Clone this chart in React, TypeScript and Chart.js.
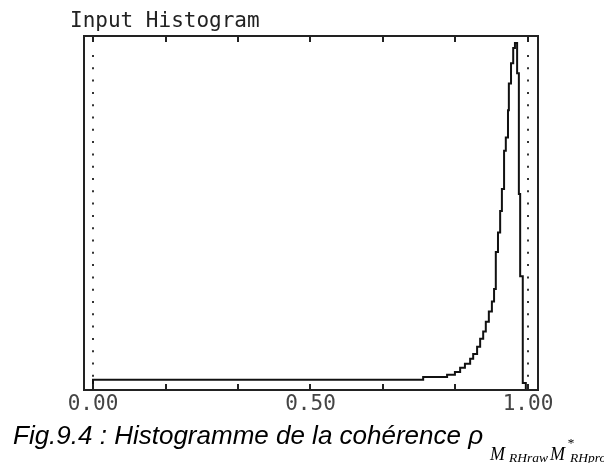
import React, { useEffect, useRef } from "react";
import { Chart, registerables } from "chart.js";

Chart.register(...registerables);

// Histogram bin edges (coherence) and the normalised count held from each edge
const binEdges = [
  0, 0.759, 0.814, 0.832, 0.844, 0.855, 0.867, 0.874, 0.883, 0.89, 0.897,
  0.903, 0.91, 0.917, 0.922, 0.926, 0.931, 0.936, 0.94, 0.945, 0.949, 0.954,
  0.956, 0.961, 0.966, 0.97, 0.975, 0.979, 0.982, 0.988, 0.995, 1.0,
];
const binCounts = [
  2.0, 2.9, 3.7, 4.3, 5.1, 6.3, 7.4, 8.8, 10.2, 12.2, 14.5, 16.5, 19.3, 22.2,
  25.0, 28.5, 39.0, 44.5, 50.6, 56.8, 67.6, 71.3, 79.0, 86.6, 92.3, 96.6, 98.0,
  89.5, 55.4, 32.1, 2.0, 0,
];
const xTickValues = [0, 0.1667, 0.3333, 0.5, 0.6667, 0.8333, 1.0];
const xTickLabels = ["0.00", "", "", "0.50", "", "", "1.00"];
const markerLines = [0, 1];
const chartTitle = "Input Histogram";

const X_MIN = -0.0207;
const X_MAX = 1.023;
const Y_MIN = 0;
const Y_MAX = 100;

const framePlugin = {
  id: "idlFrame",
  afterDatasetsDraw(chart: any) {
    const { ctx, chartArea } = chart;
    const xs = chart.scales.x;
    ctx.save();
    // dotted markers
    ctx.strokeStyle = "#333";
    ctx.lineWidth = 2;
    ctx.setLineDash([2, 10.3]);
    for (const v of markerLines) {
      const px = Math.round(xs.getPixelForValue(v));
      ctx.beginPath();
      ctx.moveTo(px, chartArea.top + 19);
      ctx.lineTo(px, chartArea.bottom - 2);
      ctx.stroke();
    }
    ctx.setLineDash([]);
    // box
    ctx.strokeStyle = "#222";
    ctx.lineWidth = 2;
    ctx.strokeRect(
      chartArea.left,
      chartArea.top,
      chartArea.right - chartArea.left,
      chartArea.bottom - chartArea.top
    );
    // inward ticks top & bottom
    for (const t of xs.ticks) {
      const px = Math.round(xs.getPixelForValue(t.value));
      ctx.beginPath();
      ctx.moveTo(px, chartArea.bottom);
      ctx.lineTo(px, chartArea.bottom - 6);
      ctx.moveTo(px, chartArea.top);
      ctx.lineTo(px, chartArea.top + 6);
      ctx.stroke();
    }
    // title
    ctx.fillStyle = "#222";
    ctx.font = '21px "DejaVu Sans Mono"';
    ctx.textBaseline = "alphabetic";
    ctx.textAlign = "left";
    ctx.fillText(chartTitle, 70, 27);
    ctx.restore();
  },
};

export default function App() {
  const canvasRef = useRef<HTMLCanvasElement | null>(null);

  useEffect(() => {
    const data = [{ x: binEdges[0], y: 0 }].concat(
      binEdges.map((x, i) => ({ x, y: binCounts[i] }))
    );
    const chart = new Chart(canvasRef.current as HTMLCanvasElement, {
      type: "line",
      data: {
        datasets: [
          {
            data,
            borderColor: "#111",
            borderWidth: 2,
            pointRadius: 0,
            stepped: "after",
            fill: false,
            clip: false,
          } as any,
        ],
      },
      options: {
        animation: false,
        responsive: true,
        maintainAspectRatio: false,
        layout: { padding: { left: 84, right: 66, top: 36, bottom: 52 } },
        plugins: {
          legend: { display: false },
          tooltip: { enabled: false },
          title: { display: false },
        },
        scales: {
          x: {
            type: "linear",
            min: X_MIN,
            max: X_MAX,
            grid: { display: false },
            border: { display: false },
            afterBuildTicks: (scale: any) => {
              scale.ticks = xTickValues.map((v) => ({ value: v }));
            },
            ticks: {
              autoSkip: false,
              maxRotation: 0,
              padding: -4,
              color: "#444",
              font: { family: "DejaVu Sans Mono", size: 21, lineHeight: 1 },
              callback: (_v: any, i: number) => xTickLabels[i],
            },
          },
          y: {
            type: "linear",
            min: Y_MIN,
            max: Y_MAX,
            display: false,
          },
        },
      },
      plugins: [framePlugin],
    });
    return () => chart.destroy();
  }, []);

  const serif = '"Liberation Serif", "Times New Roman", serif';
  return (
    <div
      style={{
        position: "fixed",
        left: 0,
        top: 0,
        width: 604,
        height: 463,
        overflow: "hidden",
        background: "#fff",
      }}
    >
      <div style={{ position: "absolute", left: 0, top: 0, width: 604, height: 463 }}>
        <canvas ref={canvasRef} />
      </div>
      <div
        style={{
          position: "absolute",
          left: 13,
          top: 422,
          font: 'italic 26px/26px "Liberation Sans", Arial, sans-serif',
          color: "#000",
          whiteSpace: "nowrap",
        }}
      >
        Fig.9.4 : Histogramme de la cohérence ρ
      </div>
      <span style={{ position: "absolute", left: 490, top: 445, font: `italic 18px/18px ${serif}`, whiteSpace: "nowrap" }}>M</span>
      <span style={{ position: "absolute", left: 509, top: 451, font: `italic 13.5px/13.5px ${serif}`, whiteSpace: "nowrap" }}>RHraw</span>
      <span style={{ position: "absolute", left: 550, top: 445, font: `italic 18px/18px ${serif}`, whiteSpace: "nowrap" }}>M</span>
      <span style={{ position: "absolute", left: 567, top: 436, font: `italic 13.5px/13.5px ${serif}`, whiteSpace: "nowrap" }}>*</span>
      <span style={{ position: "absolute", left: 570, top: 451, font: `italic 13.5px/13.5px ${serif}`, whiteSpace: "nowrap" }}>RHpro</span>
    </div>
  );
}
